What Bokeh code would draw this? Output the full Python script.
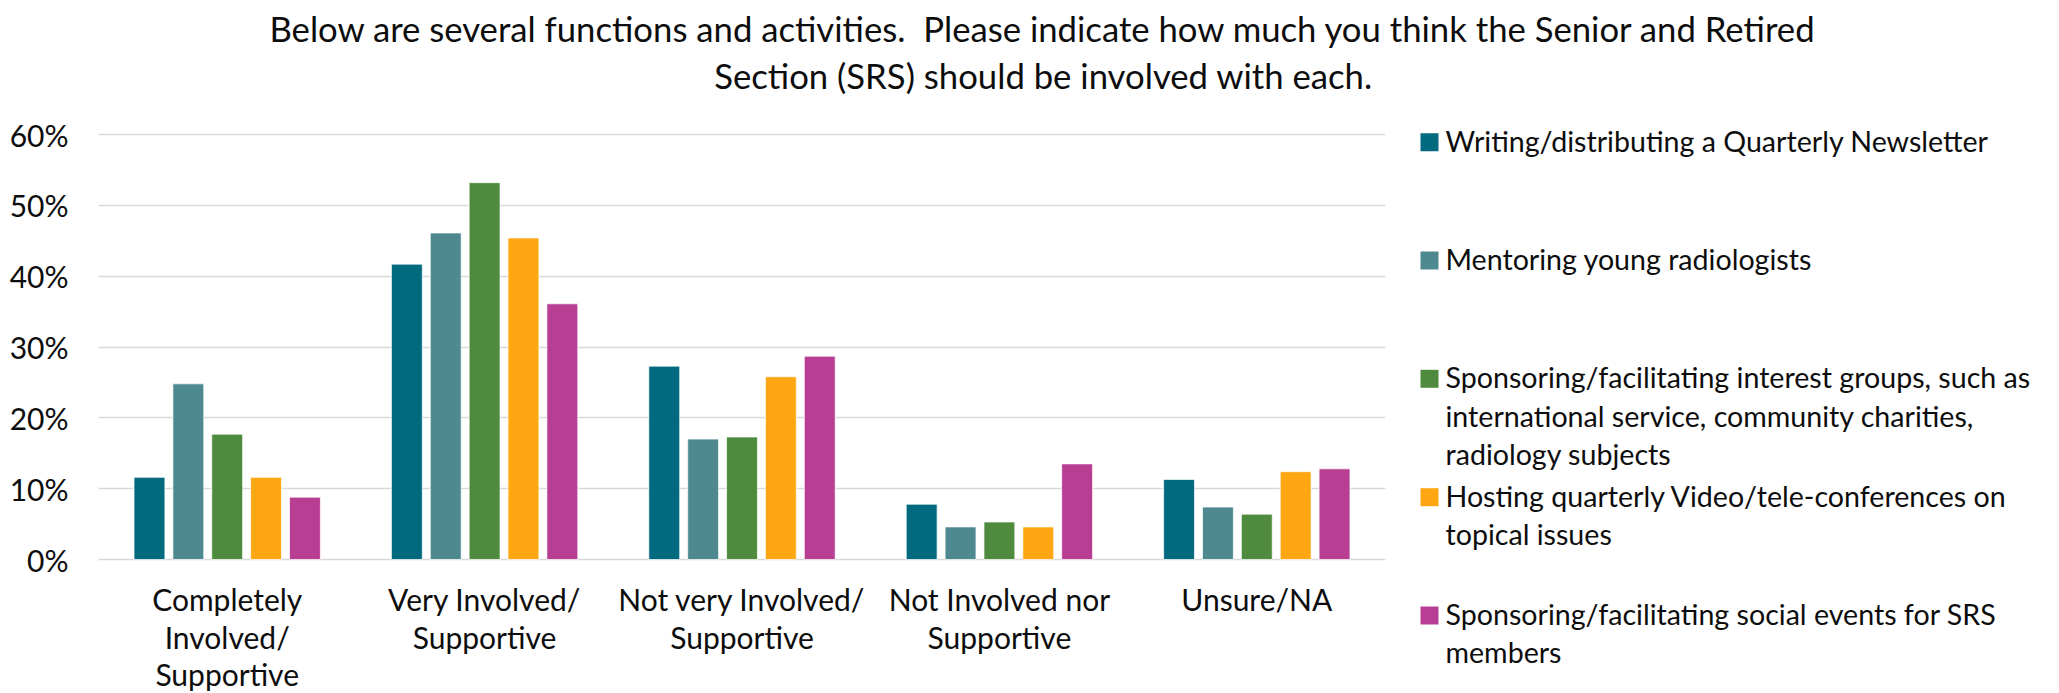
from bokeh.plotting import figure
from bokeh.models import (Range1d, FixedTicker, NumeralTickFormatter, Label, BoxAnnotation,
                          ColumnDataSource, Grid)
from bokeh.embed import file_html
from bokeh.resources import INLINE

# ---------------- data ----------------
categories = ["Completely Involved/ Supportive", "Very Involved/ Supportive",
              "Not very Involved/ Supportive", "Not Involved nor Supportive", "Unsure/NA"]
category_lines = [["Completely", "Involved/", "Supportive"],
                  ["Very Involved/", "Supportive"],
                  ["Not very Involved/", "Supportive"],
                  ["Not Involved nor", "Supportive"],
                  ["Unsure/NA"]]
series_names = ["Writing/distributing a Quarterly Newsletter",
                "Mentoring young radiologists",
                "Sponsoring/facilitating interest groups, such as international service, community charities, radiology subjects",
                "Hosting quarterly Video/tele-conferences on topical issues",
                "Sponsoring/facilitating social events for SRS members"]
legend_lines = [["Writing/distributing a Quarterly Newsletter"],
                ["Mentoring young radiologists"],
                ["Sponsoring/facilitating interest groups, such as",
                 "international service, community charities,",
                 "radiology subjects"],
                ["Hosting quarterly Video/tele-conferences on", "topical issues"],
                ["Sponsoring/facilitating social events for SRS", "members"]]
newsletter = [0.116, 0.417, 0.273, 0.078, 0.113]
mentoring = [0.248, 0.461, 0.170, 0.046, 0.074]
interest_groups = [0.177, 0.532, 0.173, 0.053, 0.064]
video_conf = [0.116, 0.454, 0.258, 0.046, 0.124]
social_events = [0.088, 0.361, 0.287, 0.135, 0.128]
series_values = [newsletter, mentoring, interest_groups, video_conf, social_events]
colors = ["#016A7E", "#4F8990", "#4F8B3F", "#FFA713", "#B83E94"]
y_ticks = [0, 0.1, 0.2, 0.3, 0.4, 0.5, 0.6]
title_lines = ["Below are several functions and activities.\u00a0 Please indicate how much you think the Senior and Retired",
               "Section (SRS) should be involved with each."]

FONT = "Lato"
TXT = "#0D0D0D"

W, H = 2043, 693
OX, OY = 0, 0             # picture -> canvas offsets
LEFT = 98                 # y-axis panel width; the frame starts at the plot area's left edge
PLOT_W = 1287             # width of the bar area (5 categories)
Y0, Y60 = 559 - OY, 134 - OY   # canvas rows of 0% and 60%
K = (Y0 - Y60) / 0.6      # pixels per unit on y
UX = PLOT_W / len(categories)   # pixels per category

frame_w = W - LEFT
x_range = Range1d(0, frame_w / UX)
y_range = Range1d(-(H - Y0) / K, 0.6 + Y60 / K)

def sx(fx):   # picture x -> frame screen x
    return fx - OX - LEFT

def sy(fy):   # picture y -> frame screen y (up from frame bottom)
    return H - (fy - OY)

p = figure(width=W, height=H, x_range=x_range, y_range=y_range,
           output_backend="svg", toolbar_location=None,
           min_border_left=LEFT, min_border_right=0, min_border_top=0, min_border_bottom=0)
p.outline_line_color = None
p.background_fill_color = "white"
p.border_fill_color = "white"
p.xaxis.visible = False
p.xgrid.visible = False

# gridlines limited to the bar area
n_cat = len(categories)
if "cross_bounds" in Grid.properties():
    p.ygrid.ticker = FixedTicker(ticks=y_ticks)
    p.ygrid.cross_bounds = (0, n_cat)
    p.ygrid.grid_line_color = "#D9D9D9"
    p.ygrid.grid_line_width = 1.6
else:
    p.ygrid.visible = False
    p.segment(x0=[0] * len(y_ticks), x1=[n_cat] * len(y_ticks), y0=y_ticks, y1=y_ticks,
              line_color="#D9D9D9", line_width=1.6)

ya = p.yaxis[0]
ya.ticker = FixedTicker(ticks=y_ticks)
ya.formatter = NumeralTickFormatter(format="0%")
ya.axis_line_color = None
ya.major_tick_line_color = None
ya.minor_tick_line_color = None
ya.major_tick_out = 0
ya.major_tick_in = 0
ya.major_label_standoff = 30
ya.major_label_text_font = FONT
ya.major_label_text_font_size = "30px"
ya.major_label_text_color = TXT

# bars
pitch = 0.151
centers = [i + 0.5 for i in range(n_cat)]
for i, (name, col, vals) in enumerate(zip(series_names, colors, series_values)):
    src = ColumnDataSource(dict(x=[c + (i - 2) * pitch for c in centers], top=vals))
    p.vbar(x="x", top="top", width=0.12, source=src, fill_color=col,
           line_color="white", line_width=1, line_alpha=0.7)

# category labels
LS = 37.5
for ci, lines in enumerate(category_lines):
    for li, t in enumerate(lines):
        p.add_layout(Label(x=centers[ci], y=sy(598.5 + li * LS), x_units="data", y_units="screen",
                           text=t, text_align="center", text_baseline="middle",
                           text_font=FONT, text_font_size="30px", text_color=TXT))

# legend
LL = 38.3
first = [141.7, 260.0, 378.3, 496.7, 615.0]
for k, lines in enumerate(legend_lines):
    cy = first[k]
    p.add_layout(BoxAnnotation(left=sx(1420), right=sx(1438), top=sy(cy - 9), bottom=sy(cy + 9),
                               left_units="screen", right_units="screen", top_units="screen",
                               bottom_units="screen", fill_color=colors[k], fill_alpha=1,
                               line_color=None))
    for li, t in enumerate(lines):
        p.add_layout(Label(x=sx(1445), y=sy(cy - 1.5 + li * LL), x_units="screen", y_units="screen",
                           text=t, text_align="left", text_baseline="middle",
                           text_font=FONT, text_font_size="28.6px", text_color=TXT))

# title
for li, t in enumerate(title_lines):
    p.add_layout(Label(x=sx(1043), y=sy(28 + li * 46.5), x_units="screen", y_units="screen",
                       text=t, text_align="center", text_baseline="middle",
                       text_font=FONT, text_font_size="34.7px", text_color=TXT))

open("out.html", "w").write(file_html(p, INLINE))
